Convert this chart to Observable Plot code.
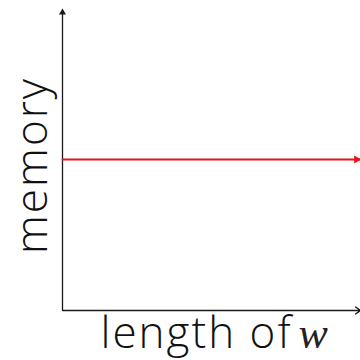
<!DOCTYPE html>
<html>
<head>
<meta charset="utf-8">
<script src="https://cdn.jsdelivr.net/npm/d3@7"></script>
<script src="https://cdn.jsdelivr.net/npm/@observablehq/plot@0.6"></script>
<style>
  html, body { margin: 0; padding: 0; background: #fff; }
  svg { display: block; }
</style>
</head>
<body>
<div id="chart"></div>
<script>
// Length of w, normalized to the plotted range
const lengths = [0, 1];
// Memory use stays constant as w grows
const memory = [0.5, 0.5];
// Axis titles
const yTitle = "memory";
const xTitle = "length of";
const xVariable = "w";

const series = lengths.map((x, i) => ({x, y: memory[i]}));
const lastPoint = series[series.length - 1];

const sans = "'Open Sans', sans-serif";
const axisColor = "#1a1a1a";
const lineColor = "#e8141c";

const chart = Plot.plot({
  width: 360,
  height: 360,
  marginLeft: 62,
  marginRight: 0,
  marginTop: 8,
  marginBottom: 50,
  x: {domain: [0, 1], axis: null},
  y: {domain: [0, 1], axis: null},
  style: {background: "#fff", fontFamily: sans, letterSpacing: "2px"},
  marks: [
    // vertical axis with a filled arrowhead at the top
    Plot.ruleX([0], {stroke: axisColor, strokeWidth: 1.3, y1: 0, y2: 0.985}),
    Plot.dot([{x: 0, y: 1}], {x: "x", y: "y", symbol: "triangle", r: 2.6, fill: axisColor, stroke: null, dy: 4}),
    // horizontal axis with an open arrowhead at the right
    Plot.arrow([{x1: 0, x2: 1, y: 0}], {x1: "x1", x2: "x2", y1: "y", y2: "y", stroke: axisColor, strokeWidth: 1.3, headLength: 7, headAngle: 70, bend: false}),
    // memory curve
    Plot.line(series, {x: "x", y: "y", stroke: lineColor, strokeWidth: 2}),
    Plot.dot([lastPoint], {x: "x", y: "y", symbol: "triangle", rotate: 90, r: 3, fill: lineColor, stroke: null, dx: -4}),
    // axis titles
    Plot.text([yTitle], {frameAnchor: "left", text: d => d, rotate: -90, textAnchor: "middle", lineAnchor: "middle", fontSize: 44, fontWeight: 300, fill: "#111", dx: -30, dy: 6}),
    Plot.text([xTitle], {frameAnchor: "bottom-left", text: d => d, textAnchor: "start", lineAnchor: "middle", fontSize: 44, fontWeight: 300, fill: "#111", dx: 38, dy: 23}),
    Plot.text([xVariable], {frameAnchor: "bottom-left", text: d => d, textAnchor: "start", lineAnchor: "middle", fontSize: 44, fontStyle: "italic", fontFamily: "'Liberation Serif', serif", fill: "#222", dx: 236, dy: 23})
  ]
});

document.getElementById("chart").append(chart);
</script>
</body>
</html>
